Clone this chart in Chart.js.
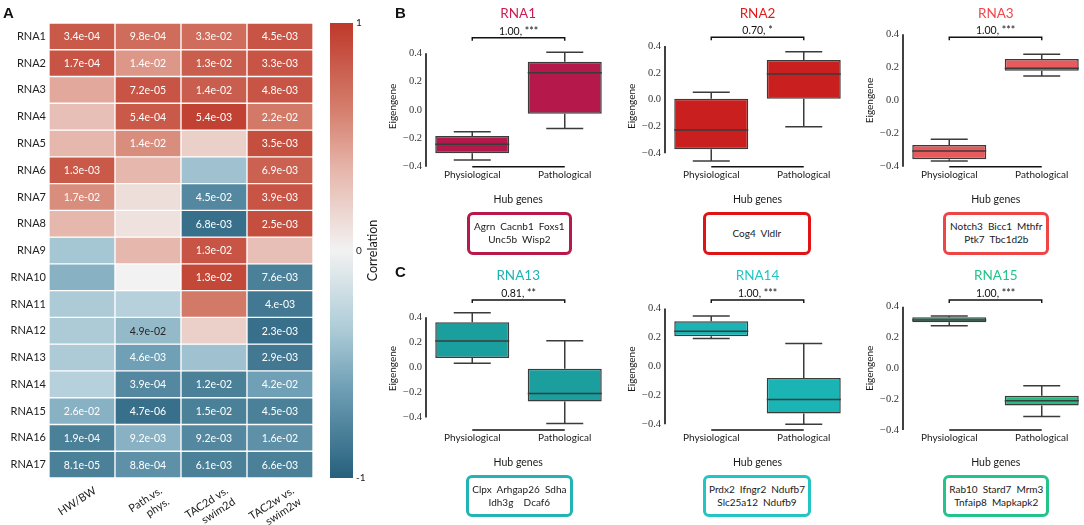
<!DOCTYPE html>
<html><head><meta charset="utf-8">
<script src="https://cdn.jsdelivr.net/npm/chart.js@4.4.1/dist/chart.umd.min.js"></script>
<style>
html,body{margin:0;padding:0;background:#fff;width:1084px;height:525px;overflow:hidden;position:relative;font-family:Lato,sans-serif;color:#1a1a1a;}
canvas{position:absolute;}
.t{position:absolute;white-space:nowrap;transform:translate(-50%,-50%);}
.letter{position:absolute;font-family:'Liberation Sans',Arial,sans-serif;font-weight:bold;font-size:15px;line-height:15px;color:#111;}
.ttl{font-size:13.5px;}
.hub{font-size:10.5px;}
.genes{position:absolute;border:3px solid;border-radius:6px;box-sizing:border-box;display:flex;align-items:center;justify-content:center;text-align:center;font-size:10px;line-height:13px;white-space:pre;}
</style></head><body>
<script>
// ---------- DATA ----------
const rnaRows = ['RNA1','RNA2','RNA3','RNA4','RNA5','RNA6','RNA7','RNA8','RNA9','RNA10','RNA11','RNA12','RNA13','RNA14','RNA15','RNA16','RNA17'];
const comparisons = [['HW/BW'],['Path.vs.','phys.'],['TAC2d vs.','swim2d'],['TAC2w vs.','swim2w']];
const corr = [
  [0.82, 0.72, 0.72, 0.85],
  [0.85, 0.50, 0.80, 0.85],
  [0.42, 0.85, 0.80, 0.85],
  [0.30, 0.82, 0.95, 0.65],
  [0.35, 0.55, 0.20, 0.88],
  [0.82, 0.35, -0.40, 0.78],
  [0.55, 0.12, -0.75, 0.85],
  [0.35, 0.10, -0.90, 0.88],
  [-0.38, 0.35, 0.85, 0.30],
  [-0.50, 0.00, 0.92, -0.80],
  [-0.35, -0.30, 0.65, -0.85],
  [-0.35, -0.45, 0.20, -0.90],
  [-0.35, -0.60, -0.40, -0.85],
  [-0.30, -0.75, -0.80, -0.60],
  [-0.50, -0.90, -0.80, -0.80],
  [-0.80, -0.50, -0.75, -0.70],
  [-0.80, -0.70, -0.80, -0.80]
];
const pvals = [
  ['3.4e-04','9.8e-04','3.3e-02','4.5e-03'],
  ['1.7e-04','1.4e-02','1.3e-02','3.3e-03'],
  ['','7.2e-05','1.4e-02','4.8e-03'],
  ['','5.4e-04','5.4e-03','2.2e-02'],
  ['','1.4e-02','','3.5e-03'],
  ['1.3e-03','','','6.9e-03'],
  ['1.7e-02','','4.5e-02','3.9e-03'],
  ['','','6.8e-03','2.5e-03'],
  ['','','1.3e-02',''],
  ['','','1.3e-02','7.6e-03'],
  ['','','','4.e-03'],
  ['','4.9e-02','','2.3e-03'],
  ['','4.6e-03','','2.9e-03'],
  ['','3.9e-04','1.2e-02','4.2e-02'],
  ['2.6e-02','4.7e-06','1.5e-02','4.5e-03'],
  ['1.9e-04','9.2e-03','9.2e-03','1.6e-02'],
  ['8.1e-05','8.8e-04','6.1e-03','6.6e-03']
];
const colorbarTicks = [-1, 0, 1];

const groups = ['Physiological','Pathological'];
const eigenTicks = [-0.4, -0.2, 0, 0.2, 0.4];
// [min, q1, median, q3, max]
const rna1Box  = [[-0.353,-0.306,-0.242,-0.184,-0.153],[-0.130,-0.026,0.263,0.341,0.407]];
const rna2Box  = [[-0.458,-0.369,-0.227,0.007,0.055],[-0.202,0.007,0.191,0.296,0.358]];
const rna3Box  = [[-0.366,-0.355,-0.305,-0.269,-0.234],[0.148,0.180,0.195,0.251,0.279]];
const rna13Box = [[0.033,0.075,0.211,0.360,0.437],[-0.449,-0.273,-0.209,-0.011,0.213]];
const rna14Box = [[0.193,0.208,0.243,0.312,0.349],[-0.400,-0.326,-0.229,-0.080,0.158]];
const rna15Box = [[0.277,0.299,0.314,0.331,0.340],[-0.312,-0.241,-0.210,-0.178,-0.113]];
const moduleNames = ['RNA1','RNA2','RNA3','RNA13','RNA14','RNA15'];
const moduleStats = [rna1Box, rna2Box, rna3Box, rna13Box, rna14Box, rna15Box];
const annotations = ['1.00, ***','0.70, *','1.00, ***','0.81, **','1.00, ***','1.00, ***'];
const hubGenes = [
  ['Agrn  Cacnb1  Foxs1','Unc5b  Wisp2'],
  ['Cog4  Vldlr'],
  ['Notch3  Bicc1  Mthfr','Ptk7  Tbc1d2b'],
  ['Clpx  Arhgap26  Sdha','Idh3g    Dcaf6'],
  ['Prdx2  Ifngr2  Ndufb7','Slc25a12  Ndufb9'],
  ['Rab10  Stard7  Mrm3','Tnfaip8  Mapkapk2']
];

// ---------- LAYOUT / STYLE ----------
const panelLayout = [
  {spineX:425.7, rowTop:0,   top:46.2,  bottom:166.7, yMin:-0.40, yMax:0.45, bracketY:37.7, fill:'#b5194c', title:'#cf1b52', border:'#b8194b', gx:467,   gw:104.7},
  {spineX:665,   rowTop:0,   top:46,    bottom:166.7, yMin:-0.50, yMax:0.40, bracketY:37.3, fill:'#c91f1f', title:'#e11c1c', border:'#e01414', gx:703,   gw:107.7},
  {spineX:903.3, rowTop:0,   top:34.3,  bottom:166.7, yMin:-0.40, yMax:0.40, bracketY:37.3, fill:'#e85a5c', title:'#f0454a', border:'#f04545', gx:943.3, gw:106},
  {spineX:425.7, rowTop:260, top:307.3, bottom:430,   yMin:-0.50, yMax:0.48, bracketY:300,  fill:'#1a9e9e', title:'#1db4b4', border:'#22b4b4', gx:466,   gw:106.7},
  {spineX:665,   rowTop:260, top:308.5, bottom:430,   yMin:-0.44, yMax:0.40, bracketY:300,  fill:'#1ab4b4', title:'#22c4c4', border:'#22c4c4', gx:703.3, gw:107.4},
  {spineX:903.3, rowTop:260, top:306.7, bottom:430,   yMin:-0.40, yMax:0.40, bracketY:300,  fill:'#22bf82', title:'#22c48a', border:'#22c48a', gx:943.3, gw:106}
];

// colour ramp stops (t from 0 = neutral to 1 = extreme)
const redRamp  = [[0,[242,242,242]],[0.35,[230,183,172]],[0.6,[214,130,113]],[1,[190,57,42]]];
const blueRamp = [[0,[242,242,242]],[0.35,[172,203,215]],[0.6,[112,160,182]],[1,[38,96,124]]];
function corrColor(v){
  const t = Math.min(1, Math.abs(v));
  const ramp = v >= 0 ? redRamp : blueRamp;
  let k = 0; while(k < ramp.length-2 && t > ramp[k+1][0]) k++;
  const [t0,c0] = ramp[k], [t1,c1] = ramp[k+1];
  const f = (t - t0)/(t1 - t0);
  const c = c0.map((m,i)=>Math.round(m + (c1[i]-m)*f));
  return `rgb(${c[0]},${c[1]},${c[2]})`;
}

Chart.defaults.animation = false;
Chart.defaults.font.family = 'Lato, sans-serif';
Chart.defaults.color = '#1a1a1a';
Chart.defaults.plugins.legend.display = false;
Chart.defaults.plugins.tooltip.enabled = false;

function addEl(tag, cls, css, html){
  const e = document.createElement(tag);
  if(cls) e.className = cls;
  Object.assign(e.style, css);
  if(html !== undefined) e.textContent = html;
  document.body.appendChild(e);
  return e;
}
function addCanvas(left, top, w, h){
  const c = document.createElement('canvas');
  c.width = w; c.height = h;
  c.style.left = left+'px'; c.style.top = top+'px';
  c.style.width = w+'px'; c.style.height = h+'px';
  document.body.appendChild(c);
  return c;
}

// ---------- HEATMAP ----------
const cellText = {
  id:'cellText',
  afterDatasetsDraw(chart){
    const {ctx} = chart;
    ctx.save();
    ctx.font = '10.5px Lato, sans-serif';
    ctx.textAlign = 'center'; ctx.textBaseline = 'middle';
    chart.data.datasets.forEach((ds, r) => {
      chart.getDatasetMeta(r).data.forEach((el, c) => {
        const t = pvals[r][c]; if(!t) return;
        ctx.fillStyle = Math.abs(corr[r][c]) < 0.47 ? '#262626' : '#ffffff';
        ctx.fillText(t, el.x, (el.y + el.base)/2 + 0.5);
      });
    });
    ctx.restore();
  }
};
const hmCanvas = addCanvas(0, 0, 330, 525);
new Chart(hmCanvas, {
  type:'bar',
  data:{
    labels: comparisons,
    datasets: rnaRows.map((name, r) => ({
      label:name,
      data: comparisons.map(() => [r, r+1]),
      backgroundColor: corr[r].map(corrColor),
      borderColor:'#ffffff', borderWidth:1, borderSkipped:false,
      grouped:false, barPercentage:1, categoryPercentage:1
    }))
  },
  options:{
    responsive:false, maintainAspectRatio:false,
    layout:{padding:{left:0, right:17, top:23, bottom:0}},
    scales:{
      x:{
        grid:{display:false, drawTicks:false}, border:{display:false},
        afterFit(s){ s.height = 47; },
        ticks:{autoSkip:false, maxRotation:33, minRotation:33, padding:6, labelOffset:13, font:{size:11}, color:'#222'}
      },
      y:{
        reverse:true, min:0, max:rnaRows.length,
        grid:{display:false, drawTicks:false}, border:{display:false},
        afterFit(s){ s.width = 49; },
        afterBuildTicks(s){ s.ticks = rnaRows.map((n,i)=>({value:i+0.5})); },
        ticks:{padding:3, font:{size:11}, color:'#222', callback:(v,i)=>rnaRows[i]}
      }
    }
  },
  plugins:[cellText]
});

// ---------- COLORBAR ----------
const cbTitle = {
  id:'cbTitle',
  afterDraw(chart){
    const {ctx, chartArea} = chart;
    ctx.save();
    ctx.translate(52.5, (chartArea.top+chartArea.bottom)/2);
    ctx.rotate(-Math.PI/2);
    ctx.font = '12.5px Lato, sans-serif';
    ctx.fillStyle = '#1a1a1a';
    ctx.textAlign = 'center'; ctx.textBaseline = 'middle';
    ctx.fillText('Correlation', 0, 0);
    ctx.restore();
  }
};
const cbCanvas = addCanvas(320, 0, 80, 525);
new Chart(cbCanvas, {
  type:'bar',
  data:{labels:['c'], datasets:[{
    data:[[colorbarTicks[0], colorbarTicks[colorbarTicks.length-1]]],
    barPercentage:1, categoryPercentage:1, borderWidth:0,
    backgroundColor(ctx){
      const {chart} = ctx; const a = chart.chartArea;
      if(!a) return '#ccc';
      const g = chart.ctx.createLinearGradient(0, a.top, 0, a.bottom);
      for(let i=0;i<=40;i++){ g.addColorStop(i/40, corrColor(1 - i/20)); }
      return g;
    }
  }]},
  options:{
    responsive:false, maintainAspectRatio:false,
    layout:{padding:{left:10, right:0, top:23, bottom:47}},
    scales:{
      x:{display:false},
      y:{position:'right', min:-1, max:1,
        grid:{display:false, drawTicks:false}, border:{display:false},
        afterFit(s){ s.width = 47; },
        afterBuildTicks(s){ s.ticks = colorbarTicks.map(v=>({value:v})); },
        ticks:{padding:3, font:{size:10}, color:'#222', callback:v=>String(v)}
      }
    }
  },
  plugins:[cbTitle]
});

// ---------- BOX PLOTS ----------
const boxParts = {
  id:'boxParts',
  afterDatasetsDraw(chart, args, o){
    const {ctx, chartArea} = chart; const x = chart.scales.x, y = chart.scales.y;
    const line = (x1,y1,x2,y2)=>{ctx.beginPath();ctx.moveTo(x1,y1);ctx.lineTo(x2,y2);ctx.stroke();};
    ctx.save();
    ctx.strokeStyle = '#3b3b3b'; ctx.lineWidth = 1.5;
    chart.getDatasetMeta(0).data.forEach((el, i) => {
      const [mn,q1,md,q3,mx] = o.stats[i];
      const half = el.width/2, cx = el.x, cap = half/2;
      line(cx, y.getPixelForValue(q3), cx, y.getPixelForValue(mx));
      line(cx, y.getPixelForValue(q1), cx, y.getPixelForValue(mn));
      line(cx-cap, y.getPixelForValue(mx), cx+cap, y.getPixelForValue(mx));
      line(cx-cap, y.getPixelForValue(mn), cx+cap, y.getPixelForValue(mn));
      line(cx-half, y.getPixelForValue(md), cx+half, y.getPixelForValue(md));
    });
    // trimmed spines
    ctx.strokeStyle = '#111'; ctx.lineWidth = 1.6;
    const t0 = eigenTicks[0], t1 = eigenTicks[eigenTicks.length-1];
    line(chartArea.left, y.getPixelForValue(t1), chartArea.left, y.getPixelForValue(t0));
    const x0 = x.getPixelForValue(0), x1 = x.getPixelForValue(groups.length-1);
    line(x0, chartArea.bottom, x1, chartArea.bottom);
    // significance bracket
    const by = o.bracketY;
    ctx.lineWidth = 1.4;
    ctx.beginPath(); ctx.moveTo(x0, by+3); ctx.lineTo(x0, by); ctx.lineTo(x1, by); ctx.lineTo(x1, by+3); ctx.stroke();
    ctx.fillStyle = '#111';
    ctx.font = '10.5px Lato, sans-serif';
    ctx.textAlign = 'center'; ctx.textBaseline = 'alphabetic';
    ctx.fillText(o.label, (x0+x1)/2, by-3);
    ctx.restore();
  }
};

const CW = 235, CH = 200, YW = 45, XH = 20;
panelLayout.forEach((L, k) => {
  const left = L.spineX - YW;
  const cv = addCanvas(left, L.rowTop, CW, CH);
  const stats = moduleStats[k];
  new Chart(cv, {
    type:'bar',
    data:{labels:groups, datasets:[{
      data: stats.map(s => [s[1], s[3]]),
      backgroundColor:L.fill, borderColor:'#3b3b3b', borderWidth:1.5, borderSkipped:false,
      barPercentage:0.8, categoryPercentage:1
    }]},
    options:{
      responsive:false, maintainAspectRatio:false,
      layout:{padding:{left:0, right:CW-YW-185, top:L.top-L.rowTop, bottom:CH-(L.bottom-L.rowTop)-XH}},
      scales:{
        x:{grid:{display:false, drawTicks:false}, border:{display:false},
          afterFit(s){ s.height = XH; },
          ticks:{padding:2, font:{size:10}, color:'#1a1a1a', maxRotation:0, autoSkip:false}},
        y:{min:L.yMin, max:L.yMax,
          grid:{display:false, drawTicks:false}, border:{display:false},
          afterFit(s){ s.width = YW; },
          afterBuildTicks(s){ s.ticks = eigenTicks.map(v=>({value:v})); },
          title:{display:true, text:'Eigengene', font:{size:10}, color:'#1a1a1a', padding:{top:6, bottom:0}},
          ticks:{padding:4, font:{family:'"Liberation Serif", "DejaVu Serif", serif', size:10.5}, color:'#333',
            callback:v => (v < 0 ? '\u2212' : '') + Math.abs(v).toFixed(1)}}
      },
      plugins:{boxParts:{stats, bracketY:L.bracketY - L.rowTop, label:annotations[k]}}
    },
    plugins:[boxParts]
  });
  const cx = L.spineX + 92.5;
  addEl('div','t ttl',{left:cx+'px', top:(L.rowTop===0?12.5:274.5)+'px', color:L.title}, moduleNames[k]);
  addEl('div','t hub',{left:cx+'px', top:(L.rowTop===0?199:461.5)+'px'}, 'Hub genes');
  const g = addEl('div','genes',{left:L.gx+'px', top:(L.rowTop===0?211.7:475)+'px', width:L.gw+'px', height:(L.rowTop===0?43.3:42.3)+'px', borderColor:L.border});
  g.textContent = hubGenes[k].join('\n');
});

addEl('div','letter',{left:'3px', top:'5px'}, 'A');
addEl('div','letter',{left:'395px', top:'5px'}, 'B');
addEl('div','letter',{left:'395px', top:'264px'}, 'C');
</script>
</body></html>
